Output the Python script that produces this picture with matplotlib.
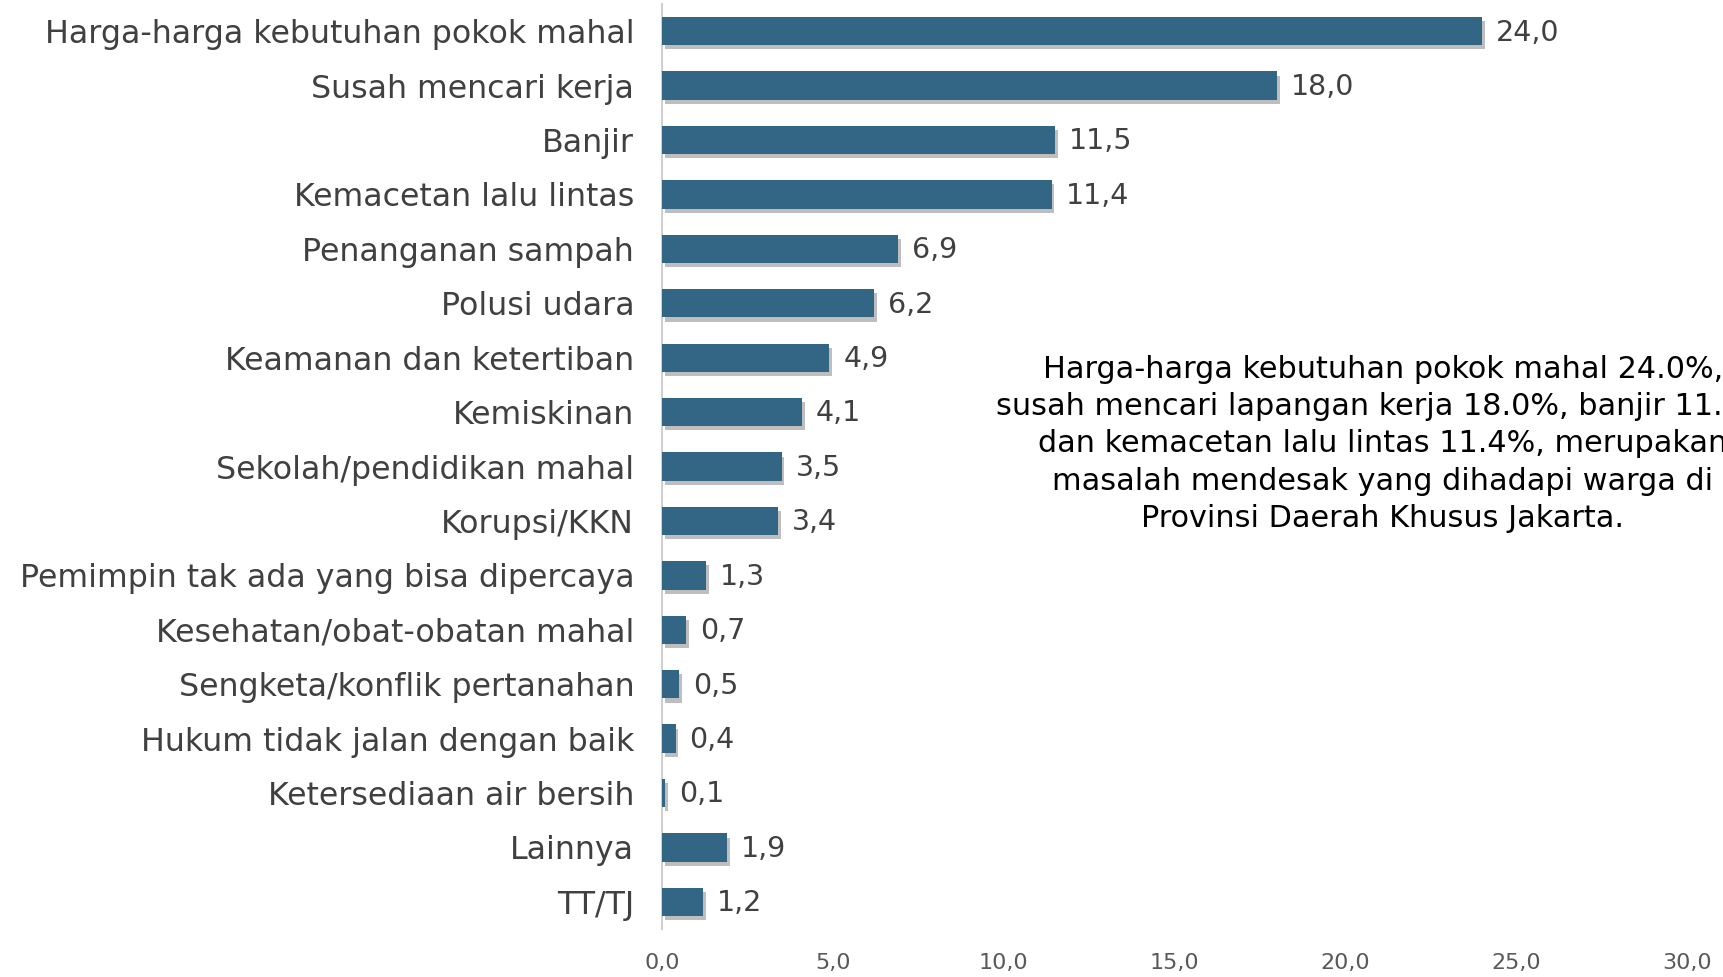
import matplotlib.pyplot as plt
import matplotlib.patheffects as pe
from matplotlib.ticker import FuncFormatter

categories = [
    "Harga-harga kebutuhan pokok mahal",
    "Susah mencari kerja",
    "Banjir",
    "Kemacetan lalu lintas",
    "Penanganan sampah",
    "Polusi udara",
    "Keamanan dan ketertiban",
    "Kemiskinan",
    "Sekolah/pendidikan mahal",
    "Korupsi/KKN",
    "Pemimpin tak ada yang bisa dipercaya",
    "Kesehatan/obat-obatan mahal",
    "Sengketa/konflik pertanahan",
    "Hukum tidak jalan dengan baik",
    "Ketersediaan air bersih",
    "Lainnya",
    "TT/TJ",
]
values = [24.0, 18.0, 11.5, 11.4, 6.9, 6.2, 4.9, 4.1, 3.5, 3.4, 1.3, 0.7, 0.5, 0.4, 0.1, 1.9, 1.2]
xticks = [0, 5, 10, 15, 20, 25, 30]

note = ("Harga-harga kebutuhan pokok mahal 24.0%,\n"
        "susah mencari lapangan kerja 18.0%, banjir 11.5%\n"
        "dan kemacetan lalu lintas 11.4%, merupakan\n"
        "masalah mendesak yang dihadapi warga di\n"
        "Provinsi Daerah Khusus Jakarta.")

BAR = "#336685"
TXT = "#404040"

plt.rcParams["font.family"] = ["DejaVu Sans"]

fig = plt.figure(figsize=(17.24, 9.77), dpi=100)
ax = fig.add_axes([0.384, 0.049, 0.5946, 0.947])

ypos = list(range(len(categories)))
bars = ax.barh(ypos, values, height=0.52, color=BAR, zorder=3)
for b in bars:
    b.set_path_effects([
        pe.SimplePatchShadow(offset=(2, -3), shadow_rgbFace="#7f7f7f", alpha=0.5),
        pe.Normal(),
    ])

for y, v in zip(ypos, values):
    ax.annotate(f"{v:.1f}".replace(".", ","), (v, y), xytext=(10, -1),
                textcoords="offset points", va="center", ha="left",
                fontsize=20.5, color=TXT)

ax.set_xlim(0, 30)
ax.set_ylim(len(categories) - 0.5, -0.5)
ax.set_yticks(ypos)
ax.set_yticklabels(categories, fontsize=22.8, color=TXT)
ax.set_xticks(xticks)
ax.xaxis.set_major_formatter(FuncFormatter(lambda x, p: f"{x:.1f}".replace(".", ",")))
ax.tick_params(axis="x", length=0, pad=17, labelsize=16, labelcolor="#595959")
ax.tick_params(axis="y", length=0, pad=20)

for s in ["top", "right", "bottom"]:
    ax.spines[s].set_visible(False)
ax.spines["left"].set_color("#d0d0d0")
ax.spines["left"].set_linewidth(1.5)

# note text runs past the right edge, as in the source image
fig.text(1383 / 1724, 1 - 444 / 977, note, ha="center", va="center",
         fontsize=21.8, color="black", linespacing=1.36)

fig.savefig("out.png", dpi=100)
